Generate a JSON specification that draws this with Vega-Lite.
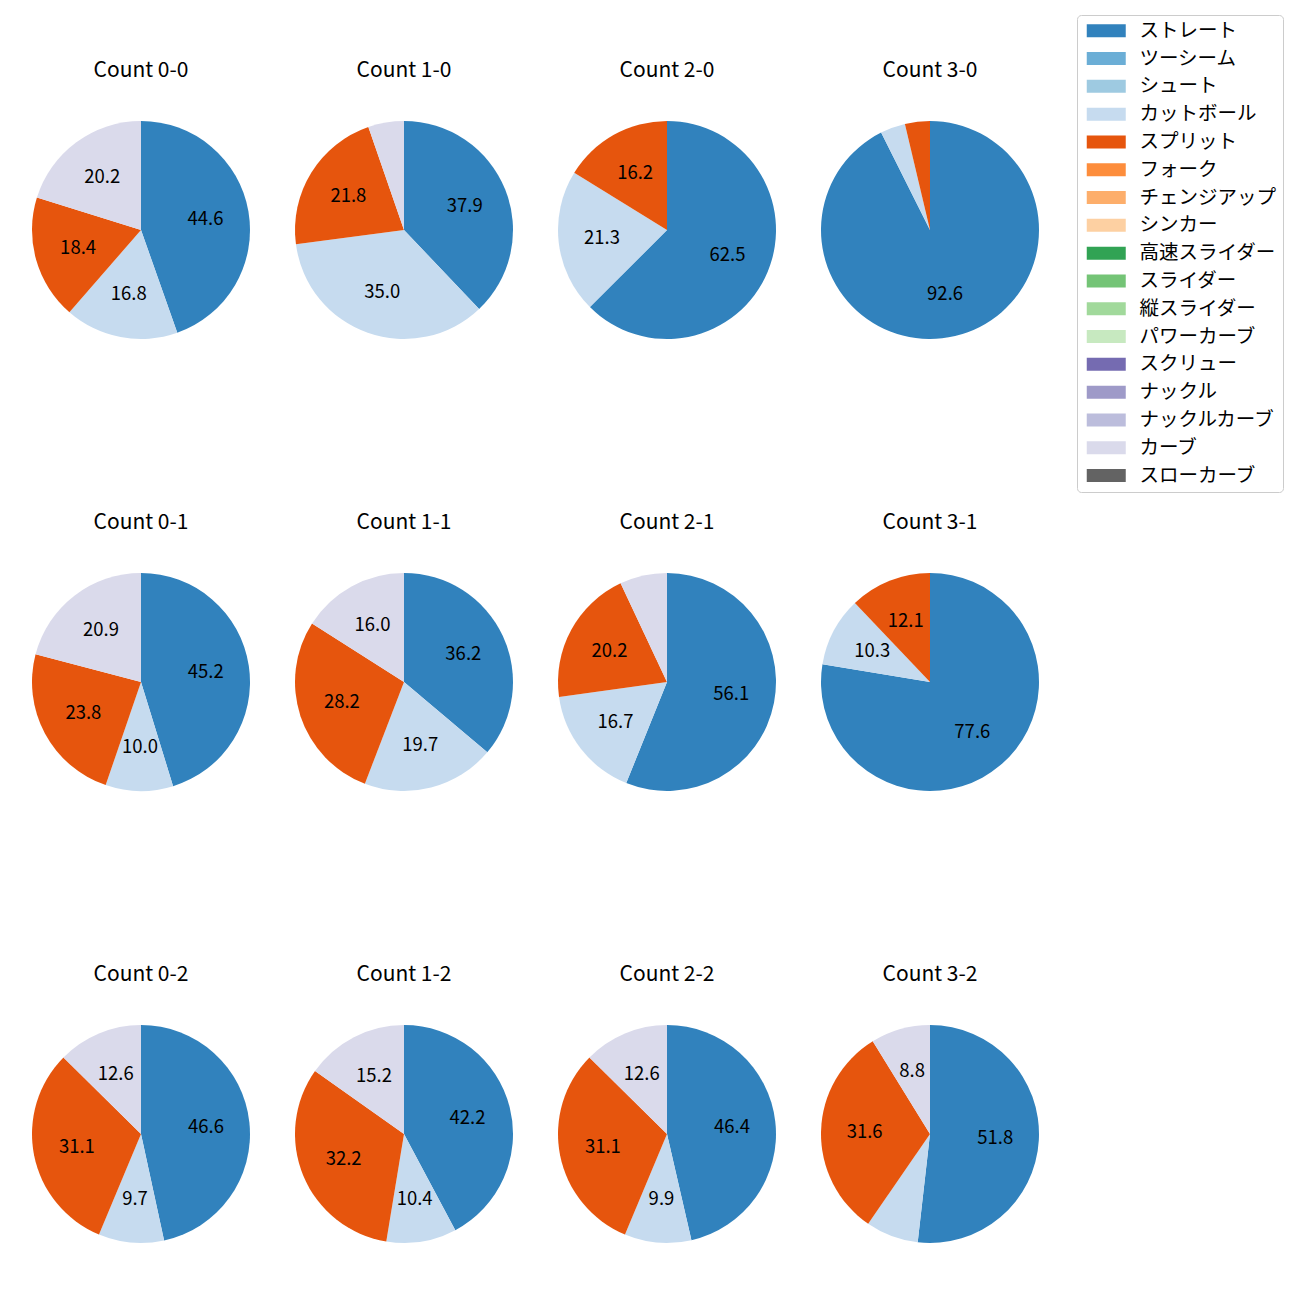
{
  "$schema": "https://vega.github.io/schema/vega-lite/v6.json",
  "padding": {"left": 32, "top": 14, "right": 5, "bottom": 5},
  "datasets": {
    "types": [
      {"pitch": "ストレート", "k": 0},
      {"pitch": "ツーシーム", "k": 1},
      {"pitch": "シュート", "k": 2},
      {"pitch": "カットボール", "k": 3},
      {"pitch": "スプリット", "k": 4},
      {"pitch": "フォーク", "k": 5},
      {"pitch": "チェンジアップ", "k": 6},
      {"pitch": "シンカー", "k": 7},
      {"pitch": "高速スライダー", "k": 8},
      {"pitch": "スライダー", "k": 9},
      {"pitch": "縦スライダー", "k": 10},
      {"pitch": "パワーカーブ", "k": 11},
      {"pitch": "スクリュー", "k": 12},
      {"pitch": "ナックル", "k": 13},
      {"pitch": "ナックルカーブ", "k": 14},
      {"pitch": "カーブ", "k": 15},
      {"pitch": "スローカーブ", "k": 16}
    ]
  },
  "data": {
    "values": [
      {"count": "Count 0-0", "pitch": "ストレート", "pct": 44.6},
      {"count": "Count 0-0", "pitch": "カットボール", "pct": 16.8},
      {"count": "Count 0-0", "pitch": "スプリット", "pct": 18.4},
      {"count": "Count 0-0", "pitch": "カーブ", "pct": 20.2},
      {"count": "Count 1-0", "pitch": "ストレート", "pct": 37.9},
      {"count": "Count 1-0", "pitch": "カットボール", "pct": 35.0},
      {"count": "Count 1-0", "pitch": "スプリット", "pct": 21.8},
      {"count": "Count 1-0", "pitch": "カーブ", "pct": 5.3},
      {"count": "Count 2-0", "pitch": "ストレート", "pct": 62.5},
      {"count": "Count 2-0", "pitch": "カットボール", "pct": 21.3},
      {"count": "Count 2-0", "pitch": "スプリット", "pct": 16.2},
      {"count": "Count 3-0", "pitch": "ストレート", "pct": 92.6},
      {"count": "Count 3-0", "pitch": "カットボール", "pct": 3.7},
      {"count": "Count 3-0", "pitch": "スプリット", "pct": 3.7},
      {"count": "Count 0-1", "pitch": "ストレート", "pct": 45.2},
      {"count": "Count 0-1", "pitch": "カットボール", "pct": 10.0},
      {"count": "Count 0-1", "pitch": "スプリット", "pct": 23.8},
      {"count": "Count 0-1", "pitch": "カーブ", "pct": 20.9},
      {"count": "Count 1-1", "pitch": "ストレート", "pct": 36.2},
      {"count": "Count 1-1", "pitch": "カットボール", "pct": 19.7},
      {"count": "Count 1-1", "pitch": "スプリット", "pct": 28.2},
      {"count": "Count 1-1", "pitch": "カーブ", "pct": 16.0},
      {"count": "Count 2-1", "pitch": "ストレート", "pct": 56.1},
      {"count": "Count 2-1", "pitch": "カットボール", "pct": 16.7},
      {"count": "Count 2-1", "pitch": "スプリット", "pct": 20.2},
      {"count": "Count 2-1", "pitch": "カーブ", "pct": 7.0},
      {"count": "Count 3-1", "pitch": "ストレート", "pct": 77.6},
      {"count": "Count 3-1", "pitch": "カットボール", "pct": 10.3},
      {"count": "Count 3-1", "pitch": "スプリット", "pct": 12.1},
      {"count": "Count 0-2", "pitch": "ストレート", "pct": 46.6},
      {"count": "Count 0-2", "pitch": "カットボール", "pct": 9.7},
      {"count": "Count 0-2", "pitch": "スプリット", "pct": 31.1},
      {"count": "Count 0-2", "pitch": "カーブ", "pct": 12.6},
      {"count": "Count 1-2", "pitch": "ストレート", "pct": 42.2},
      {"count": "Count 1-2", "pitch": "カットボール", "pct": 10.4},
      {"count": "Count 1-2", "pitch": "スプリット", "pct": 32.2},
      {"count": "Count 1-2", "pitch": "カーブ", "pct": 15.2},
      {"count": "Count 2-2", "pitch": "ストレート", "pct": 46.4},
      {"count": "Count 2-2", "pitch": "カットボール", "pct": 9.9},
      {"count": "Count 2-2", "pitch": "スプリット", "pct": 31.1},
      {"count": "Count 2-2", "pitch": "カーブ", "pct": 12.6},
      {"count": "Count 3-2", "pitch": "ストレート", "pct": 51.8},
      {"count": "Count 3-2", "pitch": "カットボール", "pct": 7.8},
      {"count": "Count 3-2", "pitch": "スプリット", "pct": 31.6},
      {"count": "Count 3-2", "pitch": "カーブ", "pct": 8.8}
    ]
  },
  "transform": [
    {"lookup": "pitch", "from": {"data": {"name": "types"}, "key": "pitch", "fields": ["k"]}}
  ],
  "facet": {
    "field": "count",
    "type": "nominal",
    "sort": ["Count 0-0", "Count 1-0", "Count 2-0", "Count 3-0", "Count 0-1", "Count 1-1", "Count 2-1", "Count 3-1", "Count 0-2", "Count 1-2", "Count 2-2", "Count 3-2"],
    "header": {"title": null, "labelFont": "Noto Sans CJK JP", "labelFontSize": 21, "labelPadding": 40, "labelColor": "black"}
  },
  "columns": 4,
  "spacing": {"column": 45, "row": 173},
  "spec": {
    "width": 218,
    "height": 218,
    "layer": [
      {
        "mark": {"type": "arc", "outerRadius": 109},
        "encoding": {
          "theta": {"field": "pct", "type": "quantitative", "stack": true},
          "order": {"field": "k", "type": "quantitative"},
          "color": {
            "field": "pitch",
            "type": "nominal",
            "scale": {
              "domain": ["ストレート", "ツーシーム", "シュート", "カットボール", "スプリット", "フォーク", "チェンジアップ", "シンカー", "高速スライダー", "スライダー", "縦スライダー", "パワーカーブ", "スクリュー", "ナックル", "ナックルカーブ", "カーブ", "スローカーブ"],
              "range": ["#3182bd", "#6baed6", "#9ecae1", "#c6dbef", "#e6550d", "#fd8d3c", "#fdae6b", "#fdd0a2", "#31a354", "#74c476", "#a1d99b", "#c7e9c0", "#756bb1", "#9e9ac8", "#bcbddc", "#dadaeb", "#636363"]
            },
            "legend": {
              "orient": "none",
              "legendX": 1045,
              "legendY": -106,
              "title": null,
              "direction": "vertical",
              "columns": 1,
              "symbolType": "M-0.857,-0.929H4.714V0.929H-0.857Z",
              "symbolSize": 196,
              "symbolStrokeWidth": 0,
              "symbolOpacity": 1,
              "labelFont": "Noto Sans CJK JP",
              "labelFontSize": 19.5,
              "labelColor": "black",
              "labelOffset": 37,
              "rowPadding": 6.8,
              "padding": 6,
              "strokeColor": "#cccccc",
              "fillColor": "white",
              "cornerRadius": 4
            }
          }
        }
      },
      {
        "mark": {"type": "text", "radius": 65.4, "fontSize": 18.5, "font": "Noto Sans CJK JP", "color": "black", "align": "center", "baseline": "middle"},
        "encoding": {
          "theta": {"field": "pct", "type": "quantitative", "stack": true},
          "order": {"field": "k", "type": "quantitative"},
          "detail": {"field": "pitch", "type": "nominal"},
          "text": {"condition": {"test": "datum.pct >= 8", "field": "pct", "type": "quantitative", "format": ".1f"}, "value": ""}
        }
      }
    ]
  },
  "config": {"view": {"stroke": null}}
}
